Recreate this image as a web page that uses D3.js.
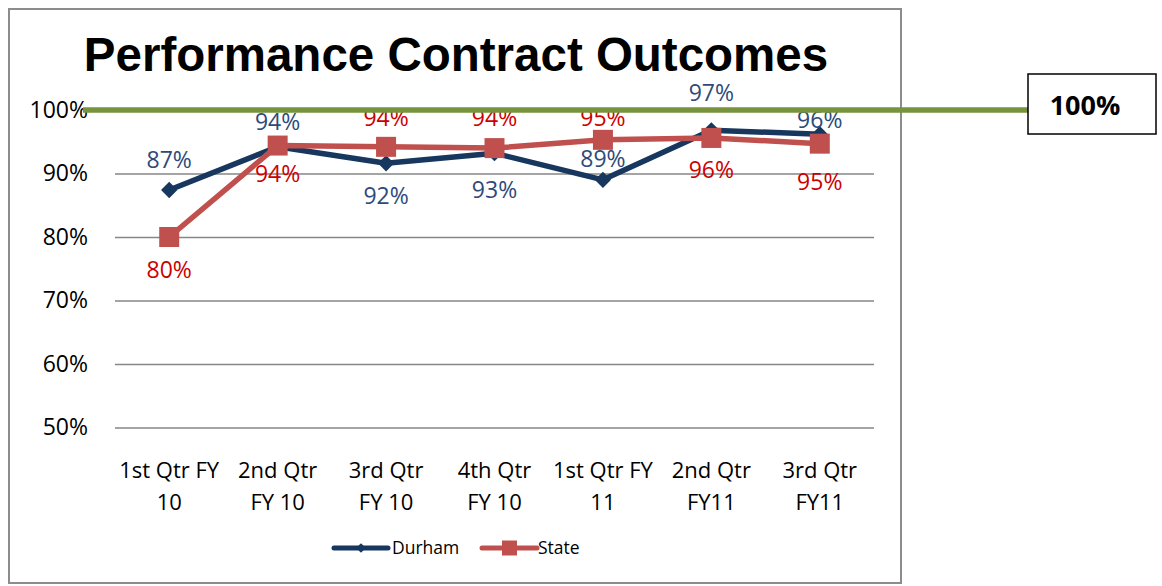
<!DOCTYPE html>
<html>
<head>
<meta charset="utf-8">
<script src="https://cdn.jsdelivr.net/npm/d3@7"></script>
<style>
  body { margin: 0; background: #fff; }
  svg { display: block; }
</style>
</head>
<body>
<div id="chart"></div>
<script>
const width = 1162;
const height = 586;

// data
const categories = [
  ["1st Qtr FY", "10"],
  ["2nd Qtr", "FY 10"],
  ["3rd Qtr", "FY 10"],
  ["4th Qtr", "FY 10"],
  ["1st Qtr FY", "11"],
  ["2nd Qtr", "FY11"],
  ["3rd Qtr", "FY11"]
];
const durham = [0.874, 0.942, 0.916, 0.932, 0.890, 0.968, 0.962];
const state = [0.80, 0.944, 0.942, 0.940, 0.953, 0.956, 0.947];
const durhamLabels = ["87%", "94%", "92%", "93%", "89%", "97%", "96%"];
const stateLabels = ["80%", "94%", "94%", "94%", "95%", "96%", "95%"];
const yTicks = [0.5, 0.6, 0.7, 0.8, 0.9, 1.0];
const target = 1.0;

// label placement (pixels from the point, as the labels sit in the original)
const durhamLabelDy = [-30, -25, 32, 37, -21, -38, -14];
const stateLabelDy = [33, 28, -29, -30, -22, 32, 38];

const plot = { left: 115, right: 874, top: 110, bottom: 427.5 };
const navy = "#17375e";
const red = "#c0504d";
const font = "'Open Sans', 'Noto Sans', sans-serif";

const svg = d3.select('#chart')
  .append('svg')
  .attr('width', width)
  .attr('height', height);

// chart frame
svg.append('rect')
  .attr('x', 9).attr('y', 9)
  .attr('width', 892).attr('height', 574)
  .attr('fill', '#fff')
  .attr('stroke', '#8c8c8c')
  .attr('stroke-width', 2);

const x = d3.scaleBand()
  .domain(d3.range(categories.length))
  .range([plot.left, plot.right]);

const y = d3.scaleLinear()
  .domain([0.5, 1.0])
  .range([plot.bottom, plot.top]);

const cx = i => x(i) + x.bandwidth() / 2;

// gridlines + y labels
const yAxis = d3.axisLeft(y)
  .tickValues(yTicks)
  .tickSize(-(plot.right - plot.left))
  .tickPadding(27)
  .tickFormat(d3.format('.0%'));

svg.append('g')
  .attr('transform', `translate(${plot.left},0)`)
  .call(yAxis)
  .call(g => g.select('.domain').remove())
  .call(g => g.selectAll('.tick line').attr('stroke', '#868686').attr('stroke-width', 1.5))
  .call(g => g.selectAll('.tick text')
    .attr('font-family', font).attr('font-size', 23).attr('fill', '#000'));

// x labels
const xl = svg.append('g');
categories.forEach((c, i) => {
  const t = xl.append('text')
    .attr('x', cx(i))
    .attr('y', 478)
    .attr('text-anchor', 'middle')
    .attr('font-family', font)
    .attr('font-size', 22)
    .attr('fill', '#000');
  c.forEach((line, k) => {
    t.append('tspan').attr('x', cx(i)).attr('dy', k === 0 ? 0 : 32).text(line);
  });
});

const line = d3.line().x((d, i) => cx(i)).y(d => y(d));

// Durham
svg.append('path')
  .datum(durham)
  .attr('d', line)
  .attr('fill', 'none')
  .attr('stroke', navy)
  .attr('stroke-width', 5.5)
  .attr('stroke-linejoin', 'round');

svg.append('g').selectAll('path')
  .data(durham)
  .join('path')
  .attr('transform', (d, i) => `translate(${cx(i)},${y(d)})`)
  .attr('d', d3.symbol(d3.symbolDiamond2, 170)())
  .attr('fill', navy);

// State
svg.append('path')
  .datum(state)
  .attr('d', line)
  .attr('fill', 'none')
  .attr('stroke', red)
  .attr('stroke-width', 5.5)
  .attr('stroke-linejoin', 'round');

svg.append('g').selectAll('rect')
  .data(state)
  .join('rect')
  .attr('x', (d, i) => cx(i) - 10)
  .attr('y', d => y(d) - 10)
  .attr('width', 20)
  .attr('height', 20)
  .attr('fill', red);

// data labels
svg.append('g').selectAll('text')
  .data(durham)
  .join('text')
  .attr('x', (d, i) => cx(i))
  .attr('y', (d, i) => y(d) + durhamLabelDy[i])
  .attr('dy', '0.36em')
  .attr('text-anchor', 'middle')
  .attr('font-family', font)
  .attr('font-size', 23)
  .attr('fill', '#2e4a7a')
  .text((d, i) => durhamLabels[i]);

svg.append('g').selectAll('text')
  .data(state)
  .join('text')
  .attr('x', (d, i) => cx(i))
  .attr('y', (d, i) => y(d) + stateLabelDy[i])
  .attr('dy', '0.36em')
  .attr('text-anchor', 'middle')
  .attr('font-family', font)
  .attr('font-size', 23)
  .attr('fill', '#cc0000')
  .text((d, i) => stateLabels[i]);

// target line
svg.append('line')
  .attr('x1', 83).attr('x2', 1028)
  .attr('y1', y(target)).attr('y2', y(target))
  .attr('stroke', '#77933c')
  .attr('stroke-width', 5.5);

svg.append('rect')
  .attr('x', 1028).attr('y', 74)
  .attr('width', 128).attr('height', 60)
  .attr('fill', '#fff')
  .attr('stroke', '#000')
  .attr('stroke-width', 1.5);

svg.append('text')
  .attr('x', 1085).attr('y', 105)
  .attr('dy', '0.36em')
  .attr('text-anchor', 'middle')
  .attr('font-family', font)
  .attr('font-weight', 'bold')
  .attr('font-size', 27)
  .text(d3.format('.0%')(target));

// title
svg.append('text')
  .attr('x', 456).attr('y', 71)
  .attr('text-anchor', 'middle')
  .attr('font-family', "'Liberation Sans', Arial, sans-serif")
  .attr('font-weight', 'bold')
  .attr('font-size', 47.5)
  .text('Performance Contract Outcomes');

// legend
const legend = svg.append('g').attr('transform', 'translate(0,548)');
legend.append('line').attr('x1', 334).attr('x2', 388).attr('stroke', navy)
  .attr('stroke-width', 5).attr('stroke-linecap', 'round');
legend.append('path').attr('transform', 'translate(361,0)')
  .attr('d', d3.symbol(d3.symbolDiamond2, 60)()).attr('fill', navy);
legend.append('text').attr('x', 392).attr('dy', '0.36em')
  .attr('font-family', font).attr('font-size', 17.5).text('Durham');
legend.append('line').attr('x1', 482).attr('x2', 537).attr('stroke', red)
  .attr('stroke-width', 5).attr('stroke-linecap', 'round');
legend.append('rect').attr('x', 502).attr('y', -7.5).attr('width', 15).attr('height', 15)
  .attr('fill', red);
legend.append('text').attr('x', 538).attr('dy', '0.36em')
  .attr('font-family', font).attr('font-size', 17.5).text('State');
</script>
</body>
</html>
